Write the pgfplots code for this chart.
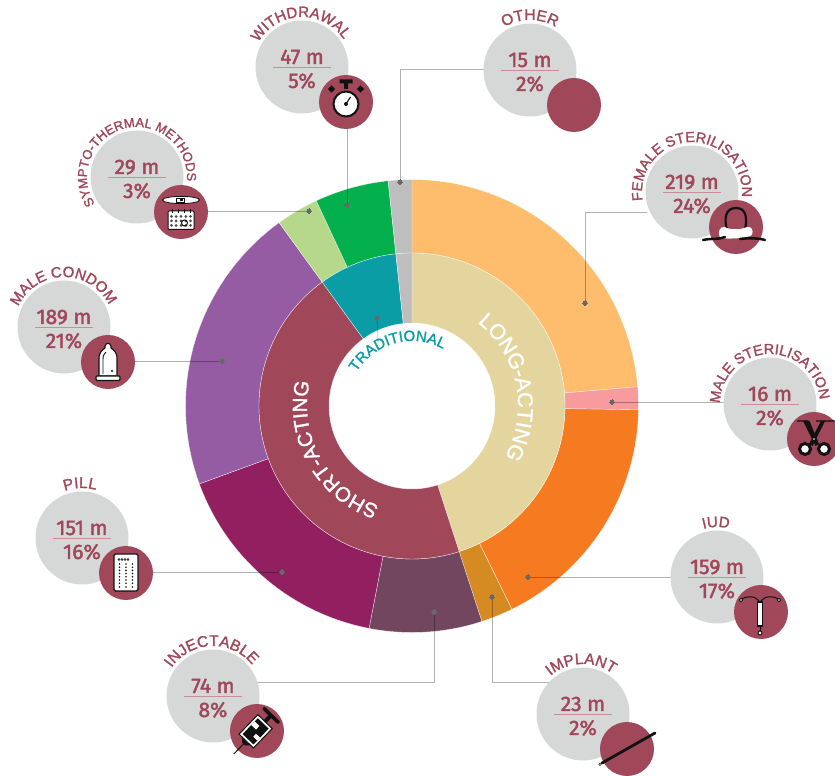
\documentclass[border=0pt]{standalone}
\usepackage{fontspec}
\usepackage{pgfplots}
\pgfplotsset{compat=1.18}
\usetikzlibrary{decorations.text}
\newfontfamily\numf[FakeBold=2]{Fira Sans}
\newfontfamily\lblf[FakeBold=1.5]{Liberation Sans}
\definecolor{maroon}{HTML}{A0475A}
\definecolor{greyc}{HTML}{D6D8D8}
\definecolor{cFem}{HTML}{FDBD6C}
\definecolor{cMal}{HTML}{F79B9E}
\definecolor{cIud}{HTML}{F67B20}
\definecolor{cImp}{HTML}{D58A22}
\definecolor{cInj}{HTML}{72465F}
\definecolor{cPil}{HTML}{921F60}
\definecolor{cCon}{HTML}{955CA4}
\definecolor{cSym}{HTML}{B5D88A}
\definecolor{cWit}{HTML}{03B04D}
\definecolor{cOth}{HTML}{BEBEBE}
\definecolor{cLong}{HTML}{E3D59D}
\definecolor{cTrad}{HTML}{0A9DA6}
\definecolor{dotc}{HTML}{66686C}
\definecolor{rulec}{HTML}{C98D99}
\definecolor{ink}{HTML}{111111}
% sector between cumulative values #1 and #2 (total 922), radii #3 and #4
\newcommand\sector[5]{%
  \pgfmathsetmacro\sa{90-#1/922*360}%
  \pgfmathsetmacro\ea{90-#2/922*360}%
  \pgfmathtruncatemacro\nn{ceil((\sa-\ea)/2)}%
  \gdef\coords{}%
  \foreach \i in {0,...,\nn}{%
    \pgfmathsetmacro\myth{\sa+(\ea-\sa)*\i/\nn}%
    \pgfmathsetmacro\x{412+#4*cos(\myth)}%
    \pgfmathsetmacro\y{406-#4*sin(\myth)}%
    \xdef\coords{\coords (\x,\y)}}%
  \foreach \i in {0,...,\nn}{%
    \pgfmathsetmacro\myth{\ea+(\sa-\ea)*\i/\nn}%
    \pgfmathsetmacro\x{412+#3*cos(\myth)}%
    \pgfmathsetmacro\y{406-#3*sin(\myth)}%
    \xdef\coords{\coords (\x,\y)}}%
  \pgfmathsetmacro\x{412+#4*cos(\sa)}%
  \pgfmathsetmacro\y{406-#4*sin(\sa)}%
  \xdef\coords{\coords (\x,\y)}%
  \edef\tmp{\noexpand\addplot[draw=white,draw opacity=.7,line width=.4pt,fill=#5,forget plot] coordinates {\coords};}\tmp}
% curved text: centre x, y (px), radius, mid angle, half span, size, text, colour
\newcommand\curv[8]{%
  \path[decorate,decoration={text along path,text color=#8,text align={center},
     text={|\lblf\fontsize{#6}{#6}\selectfont|#7}}]
    (#1pt,776pt-#2pt) ++({#4+#5}:#3pt) arc[start angle={#4+#5},end angle={#4-#5},radius=#3pt];}
\newcommand\bubble[4]{%
  \begin{scope}[shift={(#1pt,776pt-#2pt)}]
    \fill[greyc] (0,0) circle[radius=46.5pt];
    \draw[rulec,line width=.8pt] (-29pt,0)--(29pt,0);
    \node[text=maroon,anchor=base,inner sep=0] at (0,3pt) {\numf\fontsize{21}{21}\selectfont #3};
    \node[text=maroon,anchor=base,inner sep=0] at (0,-21pt) {\numf\fontsize{21}{21}\selectfont #4};
    \fill[maroon] (44pt,-35pt) circle[radius=27pt];
  \end{scope}}
\pgfplotsset{lead/.style={black,opacity=.3,line width=1pt,forget plot}}
\begin{document}
\begin{tikzpicture}[x=1pt,y=1pt]
\path[use as bounding box] (0,0) rectangle (835pt,776pt);
\begin{axis}[at={(0,0)},anchor=south west,width=835pt,height=776pt,scale only axis,
  xmin=0,xmax=835,ymin=0,ymax=776,y dir=reverse,hide axis,clip=false]
% outer ring
\sector{0}{218}{153}{226.5}{cFem}
\sector{218}{233}{153}{226.5}{cMal}
\sector{233}{394}{153}{226.5}{cIud}
\sector{394}{415}{153}{226.5}{cImp}
\sector{415}{489}{153}{226.5}{cInj}
\sector{489}{640}{153}{226.5}{cPil}
\sector{640}{830}{153}{226.5}{cCon}
\sector{830}{858}{153}{226.5}{cSym}
\sector{858}{906.5}{153}{226.5}{cWit}
\sector{906.5}{922}{153}{226.5}{cOth}
% inner ring
\sector{0}{415}{83}{153}{cLong}
\sector{415}{830}{83}{153}{maroon}
\sector{830}{906.5}{83}{153}{cTrad}
\sector{906.5}{922}{83}{153}{cOth}
% leaders
\addplot[lead] coordinates {(400,182) (400,70) (484,70)};
\addplot[lead] coordinates {(585,303) (585,212) (647,212)};
\addplot[lead] coordinates {(612,402) (724,402)};
\addplot[lead] coordinates {(528,577) (671,577)};
\addplot[lead] coordinates {(492,597) (492,682) (550,682)};
\addplot[lead] coordinates {(434,612) (434,682) (257,682)};
\addplot[lead] coordinates {(282,572) (150,572)};
\addplot[lead] coordinates {(222,361) (130,361)};
\addplot[lead] coordinates {(309,211) (200,211)};
\addplot[lead] coordinates {(347,205) (347,125)};
\addplot[black,opacity=.2,line width=.8pt,forget plot] coordinates {(377,318) (378,342)};
\addplot[only marks,dotc,mark=*,mark size=2.3pt,mark options={fill=dotc,draw=dotc,line width=0pt},forget plot] coordinates {
 (400,182) (585,303) (612,402) (528,577) (492,597) (434,612) (282,572) (222,361) (309,211) (347,205) (377,318)};
\end{axis}
% ring names
\curv{412}{406}{106}{11.5}{85}{21.5}{LONG-ACTING}{white}
\curv{412}{406}{105}{209.3}{85}{20.5}{SHORT-ACTING}{white}
\curv{412}{406}{65}{105}{80}{15}{TRADITIONAL}{cTrad}
% bubbles
\bubble{302}{67}{47 m}{5\%}
\bubble{137}{177}{29 m}{3\%}
\bubble{530}{70}{15 m}{2\%}
\bubble{692}{192}{219 m}{24\%}
\bubble{64}{327}{189 m}{21\%}
\bubble{82}{538}{151 m}{16\%}
\bubble{770}{404}{16 m}{2\%}
\bubble{717}{577}{159 m}{17\%}
\bubble{213}{696}{74 m}{8\%}
\bubble{583}{714}{23 m}{2\%}
% curved names
\curv{302}{67}{50}{92}{100}{15}{WITHDRAWAL}{maroon}
\curv{137}{177}{50}{104}{130}{13}{SYMPTO-THERMAL METHODS}{maroon}
\curv{530}{70}{50}{90}{80}{15.5}{OTHER}{maroon}
\curv{692}{192}{50}{92}{130}{14.5}{FEMALE STERILISATION}{maroon}
\curv{64}{327}{50}{91}{100}{15}{MALE CONDOM}{maroon}
\curv{82}{538}{50}{92}{60}{15.5}{PILL}{maroon}
\curv{770}{404}{50}{92}{130}{14.5}{MALE STERILISATION}{maroon}
\curv{717}{577}{50}{91}{60}{15}{IUD}{maroon}
\curv{213}{696}{50}{92}{100}{15.5}{INJECTABLE}{maroon}
\curv{583}{714}{50}{92}{100}{15.5}{IMPLANT}{maroon}
% icons: stopwatch
\begin{scope}[shift={(346pt,776pt-102pt)}]
 \fill[ink] (-6.5,18.5) rectangle (6.5,22.5) (-2,13) rectangle (2,18.5);
 \fill[ink,rotate around={45:(-14.5,13)}] (-17,10.5) rectangle (-12,15.5);
 \fill[ink,rotate around={45:(14.5,13)}] (12,10.5) rectangle (17,15.5);
 \draw[ink,fill=white,line width=2pt] (0,-2) circle[radius=12.5];
 \draw[ink,line width=1.1pt] (0,-2)--(4.5,5);
 \fill[ink] (0,-2) circle[radius=2];
\end{scope}
% thermometer and calendar
\begin{scope}[shift={(181pt,776pt-212pt)}]
 \draw[ink,fill=white,line width=.8pt] (0,12) ellipse[x radius=18.5,y radius=3.6];
 \draw[ink,fill=white,line width=.7pt] (-5,10) rectangle (3,14);
 \fill[ink] (-1,11) rectangle (2,13);
 \draw[ink,fill=white,line width=1pt,rounded corners=1pt] (-13,-17.5) rectangle (13,1);
 \foreach \a in {-9,-3,3,9}{\draw[ink,line width=1pt] (\a,-1)--(\a,2.5);}
 \foreach \a in {-9.5,-4.8,0,4.8,9.5}{\foreach \b in {-4.5,-9,-13.5}{\fill[ink!75] (\a,\b) circle[radius=1.5];}}
 \draw[ink,line width=1pt] (3.5,-11) circle[radius=3];
\end{scope}
% female sterilisation
\begin{scope}[shift={(736pt,776pt-227pt)}]
 \draw[ink,line width=2.2pt] (-9,-3) .. controls (-12,8) and (-11,19) .. (0,19) .. controls (11,19) and (11,8) .. (9,-3);
 \fill[white] (-16,-11) .. controls (-10,-12) and (10,-12) .. (16,-8) .. controls (18,-3) and (15,1) .. (11,0) .. controls (5,-3) and (-7,-3) .. (-11,0) .. controls (-16,1) and (-19,-5) .. cycle;
 \draw[ink,line width=2.5pt,line cap=round] (-33,-13) .. controls (-24,-11) and (-18,-13) .. (-11,-10);
 \draw[ink,line width=2.5pt,line cap=round] (4,-12) .. controls (12,-11) and (22,-11) .. (29,-13);
\end{scope}
% condom
\begin{scope}[shift={(108pt,776pt-362pt)}]
 \draw[ink,fill=white,line width=1.1pt,line join=round] (-9,-14) -- (-9,3) .. controls (-9,11) and (-5,12) .. (-3,14) -- (-3,16) .. controls (-2,19.5) and (2,19.5) .. (3,16) -- (3,14) .. controls (5,12) and (9,11) .. (9,3) -- (9,-14) -- cycle;
 \draw[ink,fill=white,line width=1.1pt,rounded corners=1pt] (-12,-18.5) rectangle (12,-14);
 \draw[ink,line width=.9pt] (-5,-12) -- (-5,3) .. controls (-5,7) and (-3,9) .. (-2,10);
 \fill[ink] (4,-9) circle[radius=1.2];
\end{scope}
% pill
\begin{scope}[shift={(126pt,776pt-572pt)}]
 \draw[ink,fill=white,line width=1.1pt,rounded corners=1.5pt] (-12,-19) rectangle (12,18);
 \foreach \a in {-7,-4,-1,2}{\draw[ink,line width=.5pt] (\a,12.5) circle[radius=1];}
 \foreach \a in {-6.5,0,6.5}{\foreach \b in {8,4.8,1.6,-1.6,-4.8,-8,-11.2,-15}{\fill[ink] (\a,\b) circle[radius=.9];}}
\end{scope}
% scissors
\begin{scope}[shift={(814pt,776pt-438pt)}]
 \fill[ink] (-17,16.4) rectangle (-6,17.6) (2,16.4) rectangle (21,17.6);
 \fill[ink] (-11,17) -- (-4.5,17) -- (5,-6) -- (1.5,-8) -- cycle;
 \fill[ink] (11,17) -- (7,17) -- (-5,-6) -- (-1.5,-8) -- cycle;
 \fill[white] (0,-1) circle[radius=.9];
 \draw[ink,fill=white,line width=3pt] (-9,-11) circle[radius=5.5];
 \draw[ink,fill=white,line width=3pt] (10,-11) circle[radius=5.5];
\end{scope}
% IUD
\begin{scope}[shift={(760pt,776pt-612pt)}]
 \draw[ink,line width=1pt] (-19,12) .. controls (-14,17) and (-4,16) .. (-1,11);
 \draw[ink,line width=1pt] (19,12) .. controls (14,17) and (4,16) .. (1,11);
 \draw[ink,fill=white,line width=.9pt] (-19,12) circle[radius=1.8];
 \draw[ink,fill=white,line width=.9pt] (19,12) circle[radius=1.8];
 \draw[ink,fill=white,line width=1.1pt] (-2.5,-14) rectangle (2.5,10);
 \draw[ink,line width=1pt] (0,-14)--(0,-19);
 \draw[ink,fill=white,line width=.9pt] (0,-21) circle[radius=2];
\end{scope}
% syringe
\begin{scope}[shift={(256pt,776pt-731pt)},rotate=46]
 \draw[ink,line width=1pt] (-32,0)--(-18,0);
 \fill[ink] (-18,-2) -- (-14,-6) -- (-14,6) -- (-18,2) -- cycle;
 \draw[ink,fill=white,line width=1pt] (-14,-10) rectangle (13,10);
 \fill[ink] (-11.5,-7.5) rectangle (10.5,7.5);
 \fill[white] (1,1) rectangle (6,7.5) (-6,-7.5) rectangle (-2,-2);
 \fill[ink] (13,-2) rectangle (21,2);
 \fill[ink,rounded corners=.8pt] (20,-11) rectangle (23.5,11);
\end{scope}
% implant rod
\begin{scope}[shift={(627pt,776pt-748pt)}]
 \draw[ink,line width=2.8pt,line cap=round] (-25,-15) -- (28,15);
 \draw[ink,fill=white,line width=.5pt] (-27,-16.2) circle[radius=1.3];
\end{scope}
\end{tikzpicture}
\end{document}
